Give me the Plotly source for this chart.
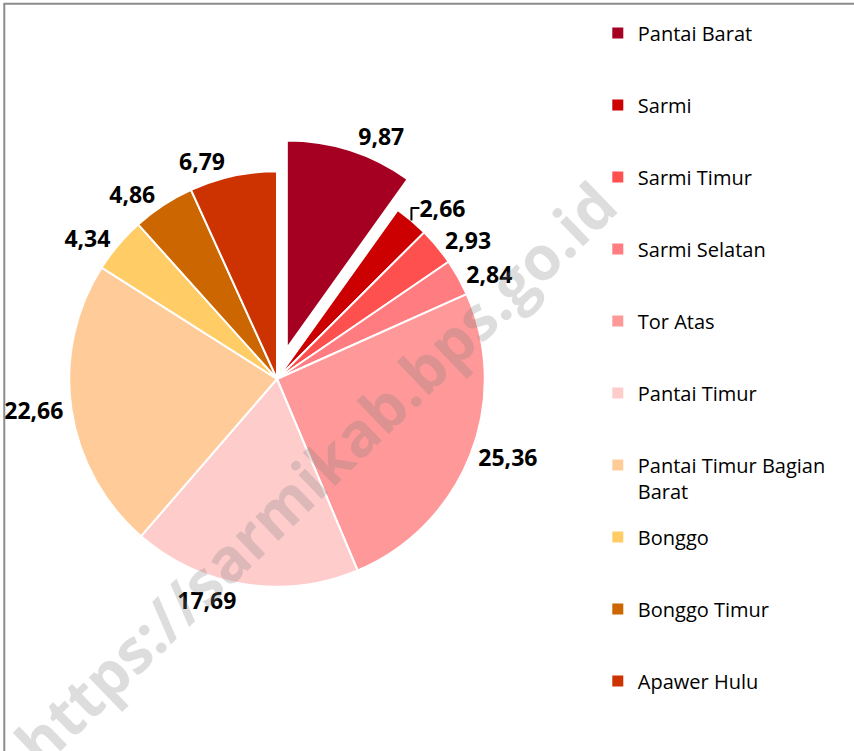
import plotly.graph_objects as go

districts = ['Pantai Barat', 'Sarmi', 'Sarmi Timur', 'Sarmi Selatan', 'Tor Atas',
             'Pantai Timur', 'Pantai Timur Bagian Barat', 'Bonggo', 'Bonggo Timur',
             'Apawer Hulu']
legend_names = ['Pantai Barat', 'Sarmi', 'Sarmi Timur', 'Sarmi Selatan', 'Tor Atas',
                'Pantai Timur', 'Pantai Timur Bagian<br>Barat', 'Bonggo', 'Bonggo Timur',
                'Apawer Hulu']
shares = [9.87, 2.66, 2.93, 2.84, 25.36, 17.69, 22.66, 4.34, 4.86, 6.79]
colors = ['#A50021', '#CC0000', '#FF5050', '#FF7C80', '#FF9999',
          '#FFCCCC', '#FFCC99', '#FFCC66', '#CC6600', '#CC3300']
pulls = [0.155, 0, 0, 0, 0, 0, 0, 0, 0, 0]

fig = go.Figure()

fig.add_trace(go.Pie(
    labels=districts,
    values=shares,
    sort=False,
    direction='clockwise',
    rotation=0,
    pull=pulls,
    marker=dict(colors=colors, line=dict(color='white', width=2)),
    texttemplate='%{value:.2f}',
    textposition='outside',
    textfont=dict(family='Open Sans', size=23, color='black', weight='bold'),
    showlegend=False,
    domain=dict(x=[0.0433, 0.6054], y=[0.1758, 0.8149]),
    hoverinfo='label+value'
))

# legend entries (one group each so the gap between them can be set)
for name, col in zip(legend_names, colors):
    if '<br>' not in name:
        name = name + '<br>&nbsp;'
    fig.add_trace(go.Scatter(
        x=[None], y=[None],
        mode='markers',
        name=name,
        legendgroup=name,
        marker=dict(symbol='square', size=11, color=col),
        hoverinfo='skip'
    ))

fig.add_annotation(
    text='<b>https://sarmikab.bps.go.id</b>',
    xref='paper', yref='paper',
    x=0.369, y=0.371,
    showarrow=False,
    textangle=-44,
    font=dict(family='Open Sans', size=61, color='rgba(128,128,128,0.27)')
)

fig.update_layout(
    width=854,
    height=751,
    separators=',.',
    paper_bgcolor='white',
    plot_bgcolor='white',
    margin=dict(l=0, r=0, t=0, b=0, autoexpand=False),
    xaxis=dict(visible=False),
    yaxis=dict(visible=False),
    legend=dict(
        x=0.70, y=0.982,
        xanchor='left', yanchor='top',
        valign='top',
        tracegroupgap=17,
        font=dict(family='Open Sans', size=20, color='black'),
        bgcolor='rgba(0,0,0,0)'
    ),
    shapes=[
        dict(type='line', xref='paper', yref='paper', x0=0.004, x1=1, y0=0.995, y1=0.995,
             line=dict(color='#8c8c8c', width=2)),
        dict(type='line', xref='paper', yref='paper', x0=0.005, x1=0.005, y0=0, y1=0.995,
             line=dict(color='#8c8c8c', width=2)),
    ]
)

fig.write_html("out.html", config={'displayModeBar': False},
               post_script="document.body.style.margin='0';")
